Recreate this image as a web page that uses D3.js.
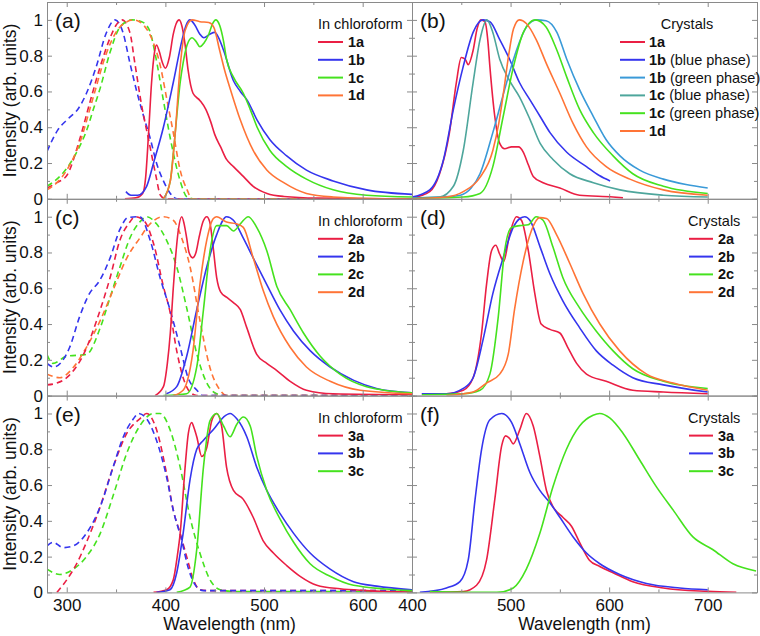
<!DOCTYPE html>
<html><head><meta charset="utf-8">
<script src="https://cdn.jsdelivr.net/npm/d3@7"></script>
<style>body{margin:0;background:#fff} svg{display:block} text{font-family:"Liberation Sans",Arial,sans-serif;fill:#111}</style>
</head><body><svg id="c" width="760" height="636"></svg>
<script>
// ---------- tick labels ----------
const yTickMajor = [0, 0.2, 0.4, 0.6, 0.8, 1.0];
const yTickLabels = ["0", "0.2", "0.4", "0.6", "0.8", "1"];
const yTickMinor = [0.1, 0.3, 0.5, 0.7, 0.9, 1.1];
const xTickMajorL = [300, 400, 500, 600];
const xTickMinorL = [350, 450, 550, 650];
const xTickMajorR = [400, 500, 600, 700];
const xTickMinorR = [450, 550, 650, 750];

// ---------- panel (a): absorption (dashed) and emission (solid) in chloroform ----------
const a_abs_1a = [[280,0.06],[290,0.09],[300,0.13],[313,0.33],[324,0.55],[334,0.74],[344,0.9],[350,0.97],[356,1.0],[364,0.93],[369,0.76],[376,0.52],[383,0.33],[390,0.14],[395,0.02],[400,0],[650,0]];
const a_abs_1b = [[280,0.265],[291,0.385],[302,0.45],[312,0.506],[320,0.59],[330,0.74],[340,0.925],[349,1.0],[357,0.93],[364,0.76],[371,0.6],[378,0.46],[385,0.33],[391,0.2],[398,0.1],[405,0.03],[412,0],[650,0]];
const a_abs_1c = [[280,0.07],[290,0.11],[300,0.17],[310,0.26],[320,0.38],[327,0.5],[334,0.62],[344,0.82],[354,0.96],[366,1.0],[376,0.99],[384,0.94],[390,0.8],[398,0.55],[406,0.31],[415,0.1],[422,0.01],[430,0],[650,0]];
const a_abs_1d = [[280,0.05],[290,0.09],[300,0.16],[313,0.31],[327,0.57],[340,0.81],[351,0.94],[361,0.99],[368,1.0],[378,0.97],[388,0.87],[395,0.74],[401,0.57],[408,0.37],[415,0.16],[422,0.05],[427,0],[650,0]];
const a_em_1a = [[359,0],[370,0.005],[377,0.03],[380,0.12],[383,0.37],[386,0.65],[389,0.82],[391,0.86],[394,0.82],[397,0.76],[400,0.73],[404,0.79],[408,0.92],[411,0.98],[414,1.0],[417,0.96],[420,0.86],[423,0.72],[428,0.59],[435,0.55],[441,0.5],[446,0.43],[450,0.36],[456,0.29],[462,0.22],[469,0.18],[479,0.125],[489,0.07],[503,0.03],[520,0.013],[554,0.004],[650,0]];
const a_em_1b = [[360,0.04],[365,0.02],[372,0.02],[381,0.07],[388,0.2],[398,0.4],[408,0.65],[417,0.89],[421,0.97],[425,1.0],[430,0.97],[435,0.92],[439,0.9],[445,0.92],[450,0.93],[454,0.9],[459,0.83],[469,0.66],[476,0.6],[483,0.55],[493,0.44],[506,0.33],[523,0.24],[543,0.16],[570,0.1],[604,0.05],[650,0.025]];
const a_em_1c = [[398,0],[405,0.1],[408,0.25],[411.5,0.46],[415,0.65],[418,0.76],[422,0.86],[427,0.9],[431,0.88],[435,0.85],[439,0.87],[444,0.92],[448,0.98],[451,1.0],[455,0.97],[459,0.88],[462,0.78],[469,0.68],[479,0.59],[486,0.5],[493,0.4],[506,0.27],[523,0.18],[543,0.11],[570,0.05],[604,0.02],[650,0.01]];
const a_em_1d = [[398,0],[405,0.1],[410,0.37],[415,0.74],[420,0.94],[427,1.0],[435,0.99],[444,0.985],[449,0.96],[455,0.83],[460,0.72],[466,0.61],[476,0.44],[489,0.27],[503,0.16],[520,0.09],[543,0.03],[570,0.01],[620,0],[650,0]];

// ---------- panel (b): crystals ----------
const b_1a = [[400,0.005],[418,0.04],[428,0.14],[438,0.37],[445,0.65],[450,0.79],[454,0.78],[457,0.75],[462,0.83],[466,0.95],[470,1.0],[474,0.99],[477,0.88],[479,0.74],[484,0.46],[489,0.31],[494,0.28],[501,0.29],[508,0.29],[513,0.26],[518,0.19],[523,0.125],[533,0.09],[550,0.06],[570,0.02],[604,0.01],[614,0.005]];
const b_1b_blue = [[400,0.01],[418,0.05],[432,0.22],[442,0.5],[452,0.74],[462,0.93],[472,1.0],[479,0.99],[489,0.89],[499,0.78],[509,0.65],[520,0.55],[530,0.46],[540,0.37],[557,0.26],[577,0.18],[590,0.13],[601,0.1]];
const b_1b_green = [[400,0.005],[430,0.01],[449,0.02],[460,0.06],[469,0.14],[482,0.37],[496,0.65],[506,0.83],[516,0.96],[526,1.0],[536,0.995],[547,0.93],[557,0.78],[570,0.61],[584,0.46],[597,0.33],[611,0.24],[631,0.16],[655,0.11],[678,0.08],[700,0.06]];
const b_1c_blue = [[400,0.005],[428,0.01],[442,0.07],[452,0.27],[462,0.65],[469,0.89],[476,1.0],[482,0.93],[489,0.78],[499,0.66],[509,0.57],[520,0.44],[530,0.31],[543,0.22],[560,0.14],[584,0.09],[611,0.05],[655,0.02],[700,0.01]];
const b_1c_green = [[400,0],[452,0.01],[469,0.03],[482,0.18],[492.5,0.46],[503,0.74],[513,0.93],[525,1.0],[536,0.96],[547,0.83],[557,0.68],[570,0.5],[584,0.37],[604,0.24],[624,0.14],[655,0.07],[700,0.03]];
const b_1d = [[400,0],[435,0.01],[452,0.04],[469,0.12],[482,0.27],[488,0.42],[493,0.6],[498,0.8],[503,0.95],[509,1.0],[516,0.98],[526,0.89],[536,0.76],[550,0.59],[563.5,0.42],[577,0.29],[597,0.18],[621,0.11],[655,0.05],[700,0.02]];

// ---------- panel (c): chloroform ----------
const c_abs_2a = [[280,0.06],[290,0.07],[300,0.1],[317,0.23],[334,0.48],[344,0.66],[354,0.87],[364,0.97],[369,1.0],[378,0.98],[388,0.85],[398,0.61],[405,0.46],[411.5,0.25],[418,0.1],[425,0.02],[432,0],[650,0]];
const c_abs_2b = [[280,0.18],[287,0.16],[295,0.19],[303,0.27],[313,0.44],[323,0.57],[333,0.64],[344,0.77],[354,0.93],[362,0.995],[374,1.0],[384.5,0.87],[394.6,0.66],[404.7,0.48],[415,0.27],[423,0.1],[432,0.03],[438,0],[650,0]];
const c_abs_2c = [[280,0.23],[286,0.18],[300,0.22],[320,0.23],[334,0.38],[344,0.55],[354,0.72],[364,0.88],[374,0.97],[381,1.0],[391,0.96],[401,0.87],[411.5,0.72],[421.6,0.49],[432,0.23],[442,0.07],[452,0.01],[460,0],[650,0]];
const c_abs_2d = [[280,0.12],[293,0.1],[307,0.16],[320,0.27],[334,0.42],[347,0.59],[361,0.77],[374,0.88],[384.5,0.96],[398,1.0],[408,0.98],[416.6,0.88],[425,0.72],[435,0.42],[445,0.16],[455.5,0.03],[462,0],[650,0]];
const c_em_2a = [[389.5,0],[398,0.05],[402,0.18],[405,0.35],[408,0.6],[410,0.75],[413,0.92],[416.6,1.0],[419,0.96],[421.6,0.88],[424,0.8],[427.7,0.77],[431,0.8],[434,0.88],[438,0.97],[442,1.0],[445,0.97],[448,0.85],[452,0.66],[456,0.58],[462,0.55],[469,0.52],[476,0.48],[482.5,0.38],[492.6,0.23],[502.8,0.18],[513,0.14],[526.5,0.08],[543,0.03],[570,0.01],[650,0.005]];
const c_em_2b = [[401,0.01],[411.5,0.05],[421.6,0.22],[431.8,0.48],[442,0.72],[452,0.9],[462,1.0],[469,0.98],[479,0.88],[489,0.77],[502.8,0.62],[516,0.48],[530,0.36],[547,0.25],[567,0.16],[591,0.085],[614,0.04],[650,0.015]];
const c_em_2c = [[398,0],[421.6,0.01],[431.8,0.16],[438.6,0.48],[445.3,0.81],[452,0.95],[462,0.95],[469,0.92],[476,0.96],[484,1.0],[492.6,0.94],[502.8,0.81],[513,0.61],[526.5,0.48],[540,0.35],[557,0.22],[577,0.12],[604,0.05],[650,0.015]];
const c_em_2d = [[408,0],[418,0.03],[428,0.25],[435,0.62],[442,0.87],[448.7,0.99],[452,1.0],[462,0.97],[472,0.96],[479,0.94],[489,0.77],[499,0.59],[509.5,0.44],[526.5,0.27],[543,0.16],[567,0.08],[597.5,0.03],[650,0.01]];

// ---------- panel (d): crystals ----------
const d_2a = [[410,0.01],[435,0.01],[452,0.03],[462,0.1],[470.6,0.35],[475.6,0.62],[480.7,0.81],[485,0.84],[489,0.79],[493,0.75],[499,0.9],[506,1.0],[511,0.98],[518,0.81],[524.6,0.57],[531,0.4],[540,0.37],[550,0.35],[558,0.27],[567,0.18],[577,0.12],[597,0.08],[624,0.03],[655,0.02],[700,0.01]];
const d_2b = [[410,0.01],[435,0.01],[452,0.04],[462,0.1],[472,0.31],[482,0.57],[492.5,0.77],[502.7,0.94],[509.4,0.99],[514.5,1.0],[519.6,0.98],[530,0.83],[540,0.68],[553,0.53],[570,0.38],[587,0.25],[604,0.17],[624,0.1],[655,0.06],[700,0.02]];
const d_2c = [[410,0.005],[452,0.01],[469,0.03],[479,0.12],[487.5,0.44],[494,0.81],[501,0.94],[509.4,0.95],[518,0.955],[526,1.0],[533,0.98],[543,0.83],[553,0.66],[570,0.49],[587,0.36],[604,0.25],[624,0.15],[655,0.08],[700,0.04]];
const d_2d = [[435,0],[462,0.02],[475.6,0.07],[489,0.12],[497.6,0.23],[504,0.48],[512.8,0.75],[521,0.92],[529.7,0.995],[536.4,0.99],[546.6,0.9],[560,0.74],[573.6,0.57],[590.5,0.4],[610.7,0.25],[638,0.12],[665,0.07],[700,0.03]];

// ---------- panel (e): chloroform ----------
const e_abs_3a = [[290,0],[300,0.07],[310,0.16],[320,0.28],[334,0.48],[347,0.7],[361,0.89],[374,0.97],[381,1.0],[391,0.91],[401,0.67],[408,0.46],[415,0.33],[421.6,0.2],[428.4,0.07],[435,0.015],[442,0.01],[650,0.01]];
const e_abs_3b = [[280,0.26],[286,0.28],[296.5,0.25],[306.7,0.26],[320,0.33],[334,0.48],[347,0.7],[357.4,0.87],[367.6,0.97],[372.6,1.0],[381,0.97],[391,0.85],[401,0.65],[408,0.46],[416.6,0.29],[423,0.14],[431.8,0.03],[438.5,0.01],[650,0.01]];
const e_abs_3c = [[280,0.13],[293,0.1],[306.7,0.13],[320,0.2],[334,0.33],[347,0.54],[361,0.78],[374,0.93],[388,1.0],[394.6,1.0],[404.7,0.91],[415,0.7],[425,0.42],[435,0.22],[445.3,0.07],[455.5,0.015],[469,0.005],[650,0.005]];
const e_em_3a = [[388,0],[401.4,0.015],[408,0.07],[412,0.2],[415,0.33],[420,0.7],[423.3,0.89],[426.7,0.95],[429,0.92],[431.8,0.87],[436.9,0.76],[442,0.81],[447,0.96],[452,1.0],[457,0.93],[462,0.7],[469,0.57],[479,0.52],[489,0.42],[499,0.29],[509.5,0.22],[523,0.15],[536.6,0.09],[553.5,0.04],[577,0.02],[604,0.01],[650,0]];
const e_em_3b = [[391,0],[404.7,0.015],[411.5,0.11],[418,0.33],[425,0.63],[431.8,0.8],[438.6,0.85],[448.7,0.91],[459,0.98],[465.6,1.0],[472.4,0.97],[482.5,0.87],[492.6,0.7],[502.8,0.57],[516.3,0.44],[530,0.33],[546.7,0.22],[567,0.13],[590.7,0.06],[614.3,0.035],[650,0.015]];
const e_em_3c = [[411.5,0],[425,0.03],[431.8,0.24],[438.6,0.7],[445.3,0.96],[452,1.0],[459,0.93],[465.6,0.87],[472.4,0.94],[479,0.98],[486,0.93],[492.6,0.76],[502.8,0.57],[516.3,0.41],[530,0.28],[546.7,0.16],[567,0.09],[590.7,0.04],[650,0.01]];

// ---------- panel (f): crystals ----------
const f_3a = [[418,0],[452,0.005],[465.5,0.04],[475.6,0.18],[484,0.52],[491,0.82],[495,0.875],[499,0.86],[502.7,0.83],[509.4,0.91],[516,1.0],[523,0.93],[529.7,0.76],[536.4,0.57],[543,0.48],[553,0.42],[561.8,0.37],[570,0.28],[580,0.18],[590.5,0.145],[604,0.11],[624,0.06],[655,0.025],[700,0.006],[729,0]];
const f_3b = [[408,0],[435,0.025],[448.6,0.06],[457,0.18],[464,0.52],[470.6,0.8],[479,0.965],[491,1.0],[501,0.95],[509.4,0.83],[519.6,0.67],[529.7,0.57],[540,0.5],[550,0.42],[563.5,0.31],[577,0.22],[590.5,0.16],[610.7,0.1],[637.8,0.05],[671.5,0.025],[700,0.015]];
const f_3c = [[418,0.005],[486,0],[502.7,0.025],[516,0.13],[529.7,0.33],[543,0.59],[556.7,0.8],[570,0.93],[583.7,0.99],[590.5,1.0],[600.6,0.975],[614,0.89],[631,0.74],[648,0.59],[665,0.46],[685,0.31],[705,0.24],[725.6,0.16],[749,0.12]];

// ---------- legends ----------
const legendA = [["1a",""],["1b",""],["1c",""],["1d",""]];
const legendB = [["1a",""],["1b"," (blue phase)"],["1b"," (green phase)"],["1c"," (blue phase)"],["1c"," (green phase)"],["1d",""]];
const legendC = [["2a",""],["2b",""],["2c",""],["2d",""]];
const legendE = [["3a",""],["3b",""],["3c",""]];

// ---------- colours ----------
const RED = "#ea1f44", BLUE = "#3535ee", GREEN = "#45e21e", ORANGE = "#ff7436", LBLUE = "#3a9ad8", TEAL = "#4ea69c";
const AXIS = "#8a8a8a";

// ---------- layout ----------
const W = 760, H = 636;
const svg = d3.select("#c");
const cols = { L: { range: [47, 412], domain: [280, 650], major: xTickMajorL, minor: xTickMinorL },
               R: { range: [412, 757], domain: [400, 750], major: xTickMajorR, minor: xTickMinorR } };
const rowTop = [2, 198.8, 395.6], rowH = 196.8;

const panels = [
  { tag: "(a)", col: "L", row: 0, title: "In chloroform", legendStyle: "L", legend: legendA, legendColors: [RED, BLUE, GREEN, ORANGE],
    dashed: [[a_abs_1b, BLUE], [a_abs_1a, RED], [a_abs_1c, GREEN], [a_abs_1d, ORANGE]],
    solid: [[a_em_1a, RED], [a_em_1b, BLUE], [a_em_1c, GREEN], [a_em_1d, ORANGE]] },
  { tag: "(b)", col: "R", row: 0, title: "Crystals", legendStyle: "B", legend: legendB, legendColors: [RED, BLUE, LBLUE, TEAL, GREEN, ORANGE],
    dashed: [],
    solid: [[b_1a, RED], [b_1b_blue, BLUE], [b_1b_green, LBLUE], [b_1c_blue, TEAL], [b_1c_green, GREEN], [b_1d, ORANGE]] },
  { tag: "(c)", col: "L", row: 1, title: "In chloroform", legendStyle: "L", legend: legendC, legendColors: [RED, BLUE, GREEN, ORANGE],
    dashed: [[c_abs_2c, GREEN], [c_abs_2d, ORANGE], [c_abs_2a, RED], [c_abs_2b, BLUE]],
    solid: [[c_em_2a, RED], [c_em_2b, BLUE], [c_em_2c, GREEN], [c_em_2d, ORANGE]] },
  { tag: "(d)", col: "R", row: 1, title: "Crystals", legendStyle: "D", legend: legendC, legendColors: [RED, BLUE, GREEN, ORANGE],
    dashed: [],
    solid: [[d_2a, RED], [d_2b, BLUE], [d_2c, GREEN], [d_2d, ORANGE]] },
  { tag: "(e)", col: "L", row: 2, title: "In chloroform", legendStyle: "L", legend: legendE, legendColors: [RED, BLUE, GREEN],
    dashed: [[e_abs_3c, GREEN], [e_abs_3a, RED], [e_abs_3b, BLUE]],
    solid: [[e_em_3a, RED], [e_em_3b, BLUE], [e_em_3c, GREEN]] },
  { tag: "(f)", col: "R", row: 2, title: "Crystals", legendStyle: "D", legend: legendE, legendColors: [RED, BLUE, GREEN],
    dashed: [],
    solid: [[f_3a, RED], [f_3b, BLUE], [f_3c, GREEN]] }
];

const defs = svg.append("defs");

panels.forEach((p, i) => {
  const c = cols[p.col];
  const top = rowTop[p.row], bottom = top + rowH;
  const x = d3.scaleLinear().domain(c.domain).range(c.range);
  const y = d3.scaleLinear().domain([0, 1.1]).range([bottom, top]);
  const g = svg.append("g");

  defs.append("clipPath").attr("id", "clip" + i).append("rect")
    .attr("x", c.range[0]).attr("y", top).attr("width", c.range[1] - c.range[0]).attr("height", rowH);

  const line = d3.line().x(d => x(d[0])).y(d => y(d[1])).curve(d3.curveMonotoneX);
  const plot = g.append("g").attr("clip-path", `url(#clip${i})`);
  p.dashed.forEach(([data, col]) => {
    plot.append("path").attr("d", line(data)).attr("fill", "none").attr("stroke", col)
      .attr("stroke-width", 1.6).attr("stroke-dasharray", "6,4");
  });
  p.solid.forEach(([data, col]) => {
    plot.append("path").attr("d", line(data)).attr("fill", "none").attr("stroke", col)
      .attr("stroke-width", 1.6);
  });

  // axes (ticks inward on all 4 sides)
  const isBottomRow = p.row === 2;
  const style = sel => { sel.selectAll("path,line").attr("stroke", AXIS); sel.selectAll("text").attr("fill", "#111").style("font-size", "17px").attr("font-family", '"Liberation Sans",Arial,sans-serif'); };
  const bx = g.append("g").attr("transform", `translate(0,${bottom})`)
    .call(d3.axisBottom(x).tickValues(c.major).tickSizeInner(-5).tickSizeOuter(0).tickPadding(7)
      .tickFormat(isBottomRow ? d3.format("d") : () => ""));
  style(bx);
  const bxm = g.append("g").attr("transform", `translate(0,${bottom})`)
    .call(d3.axisBottom(x).tickValues(c.minor).tickSize(-3).tickFormat(() => ""));
  style(bxm); bxm.select(".domain").remove();
  const tx = g.append("g").attr("transform", `translate(0,${top})`)
    .call(d3.axisTop(x).tickValues(c.major).tickSizeInner(-5).tickSizeOuter(0).tickFormat(() => ""));
  style(tx);
  const txm = g.append("g").attr("transform", `translate(0,${top})`)
    .call(d3.axisTop(x).tickValues(c.minor).tickSize(-3).tickFormat(() => ""));
  style(txm); txm.select(".domain").remove();

  const ly = g.append("g").attr("transform", `translate(${c.range[0]},0)`)
    .call(d3.axisLeft(y).tickValues(yTickMajor).tickSizeInner(-5).tickSizeOuter(0).tickPadding(4)
      .tickFormat(p.col === "L" ? ((d, k) => yTickLabels[k]) : () => ""));
  style(ly);
  const lym = g.append("g").attr("transform", `translate(${c.range[0]},0)`)
    .call(d3.axisLeft(y).tickValues(yTickMinor).tickSize(-3).tickFormat(() => ""));
  style(lym); lym.select(".domain").remove();
  const ry = g.append("g").attr("transform", `translate(${c.range[1]},0)`)
    .call(d3.axisRight(y).tickValues(yTickMajor).tickSizeInner(-5).tickSizeOuter(0).tickFormat(() => ""));
  style(ry);
  const rym = g.append("g").attr("transform", `translate(${c.range[1]},0)`)
    .call(d3.axisRight(y).tickValues(yTickMinor).tickSize(-3).tickFormat(() => ""));
  style(rym); rym.select(".domain").remove();

  // panel tag
  g.append("text").attr("x", c.range[0] + 8).attr("y", top + 26).style("font-size", "21px").text(p.tag);

  // legend
  let titleX, titleAnchor, lx0, lx1, tx0;
  if (p.legendStyle === "L") { titleX = 318; titleAnchor = "start"; lx0 = 318; lx1 = 343; tx0 = 348; }
  else if (p.legendStyle === "B") { titleX = 687; titleAnchor = "middle"; lx0 = 620; lx1 = 645; tx0 = 649; }
  else { titleX = 688; titleAnchor = "start"; lx0 = 689; lx1 = 713; tx0 = 718; }
  g.append("text").attr("x", titleX).attr("y", top + 27).attr("text-anchor", titleAnchor)
    .style("font-size", "14.5px").text(p.title);
  p.legend.forEach(([bold, rest], k) => {
    const ly0 = top + 40 + k * 17.8;
    g.append("line").attr("x1", lx0).attr("x2", lx1).attr("y1", ly0).attr("y2", ly0)
      .attr("stroke", p.legendColors[k]).attr("stroke-width", 2);
    const t = g.append("text").attr("x", tx0).attr("y", ly0 + 5).style("font-size", "14.5px");
    t.append("tspan").style("font-weight", "bold").text(bold);
    if (rest) t.append("tspan").text(rest);
  });
});

// y titles
rowTop.forEach(t => {
  svg.append("text").attr("transform", `translate(16,${t + rowH / 2}) rotate(-90)`)
    .attr("text-anchor", "middle").style("font-size", "17.5px").text("Intensity (arb. units)");
});
// x titles
[["L"], ["R"]].forEach(([k]) => {
  const r = cols[k].range;
  svg.append("text").attr("x", (r[0] + r[1]) / 2).attr("y", 630).attr("text-anchor", "middle")
    .style("font-size", "17.5px").text("Wavelength (nm)");
});
</script></body></html>
